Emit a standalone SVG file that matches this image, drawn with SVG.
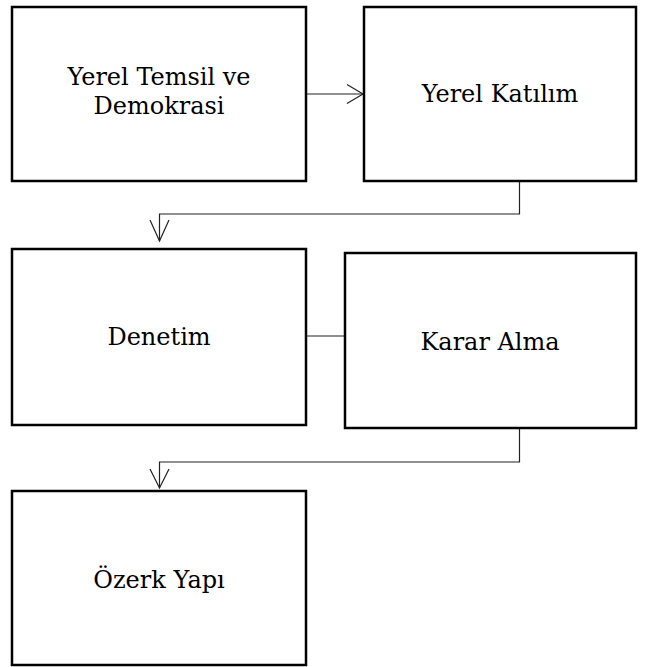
<svg xmlns="http://www.w3.org/2000/svg" width="648" height="667" viewBox="0 0 648 667">
<style>
.box{fill:#fff;stroke:#000;stroke-width:2.5}
.lbl{font-family:"DejaVu Serif","Liberation Serif",serif;font-size:24px;fill:#000;text-anchor:middle}
.con{fill:none;stroke:#222;stroke-width:1.2}
.ah{fill:none;stroke:#222;stroke-width:1.2}
</style>
<rect width="648" height="667" fill="#fff"/>
<g id="connectors">
<path class="con" d="M306,94 H363"/>
<path class="ah" d="M347,84.5 L363,94 L347,103.5"/>
<path class="con" d="M519.5,181 V214 H159.5 V241"/>
<path class="ah" d="M150,220 L159.5,241 L169,220"/>
<path class="con" d="M306,336 H345"/>
<path class="con" d="M519.5,428 V462 H159.5 V488"/>
<path class="ah" d="M150,469 L159.5,488 L169,469"/>
</g>
<g id="n1"><rect class="box" x="12" y="7" width="294" height="174"/>
<text class="lbl" x="159" y="85">Yerel Temsil ve</text><text class="lbl" x="159" y="114">Demokrasi</text></g>
<g id="n2"><rect class="box" x="364" y="7" width="272" height="174"/>
<text class="lbl" x="500" y="102">Yerel Katılım</text></g>
<g id="n3"><rect class="box" x="12" y="249" width="294" height="176"/>
<text class="lbl" x="159" y="345">Denetim</text></g>
<g id="n4"><rect class="box" x="345" y="253" width="291" height="175"/>
<text class="lbl" x="490" y="350">Karar Alma</text></g>
<g id="n5"><rect class="box" x="12" y="491" width="294" height="174"/>
<text class="lbl" x="159" y="588">Özerk Yapı</text></g>
</svg>
